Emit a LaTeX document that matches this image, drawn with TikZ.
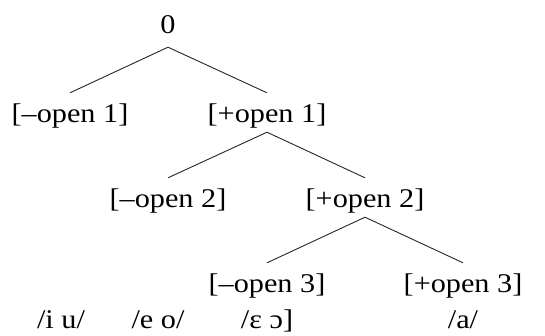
\documentclass[tikz,border=0pt]{standalone}
\usepackage{fontspec}
\setmainfont[FakeStretch=1.12]{Liberation Serif}
\begin{document}
\begin{tikzpicture}[x=1pt,y=-1pt,
  feat/.style={inner sep=0pt,text height=29pt,text depth=10pt,anchor=base,font=\fontsize{27}{30}\selectfont},
  seg/.style={inner sep=0pt,anchor=base,font=\fontsize{27}{30}\selectfont},
  branch/.style={line width=0.9pt,draw=black!85}]
\useasboundingbox (0,0) rectangle (545,335);
\node[feat,text depth=14pt] (r) at (168,33) {0};
\node[feat] (m1) at (70,122) {[–open 1]};
\node[feat] (p1) at (267,122) {[+open 1]};
\node[feat] (m2) at (168,207) {[–open 2]};
\node[feat] (p2) at (365,207) {[+open 2]};
\node[feat] (m3) at (267,292) {[–open 3]};
\node[feat] (p3) at (463,292) {[+open 3]};
\node[seg] (s1) at (61,328) {/i u/};
\node[seg] (s2) at (158,328) {/e o/};
\node[seg] (s3) at (267,328) {/ɛ ɔ]};
\node[seg] (s4) at (463,328) {/a/};
\draw[branch] (m1.north) -- (r.south) -- (p1.north);
\draw[branch] (m2.north) -- (p1.south) -- (p2.north);
\draw[branch] (m3.north) -- (p2.south) -- (p3.north);
\end{tikzpicture}
\end{document}
